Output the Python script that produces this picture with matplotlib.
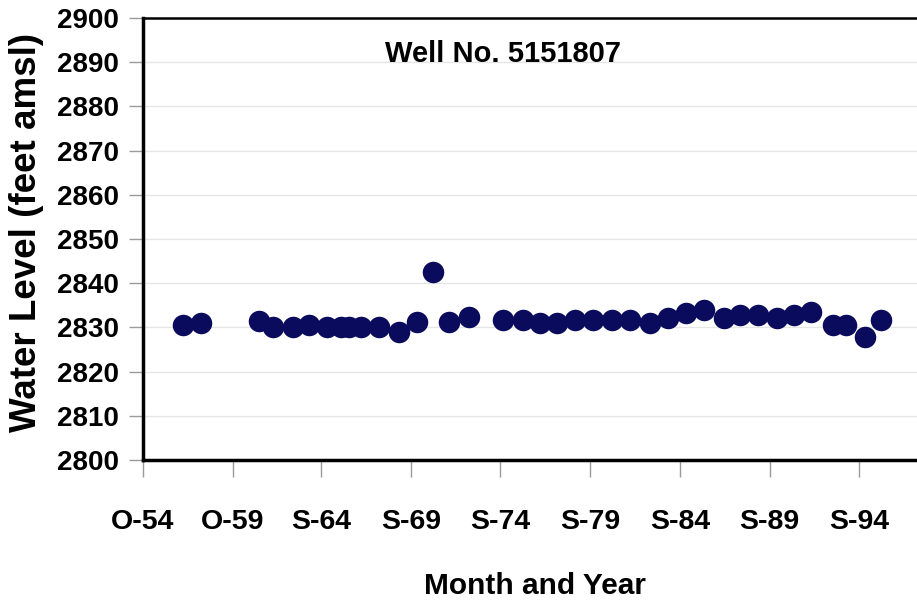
import numpy as np
import matplotlib.pyplot as plt

# water level readings (decimal year, feet amsl)
years = [1957.0, 1958.0, 1961.2, 1962.0, 1963.1, 1964.0, 1965.0, 1965.8, 1966.2,
         1966.9, 1967.9, 1969.0, 1970.0, 1970.9, 1971.8, 1972.9, 1974.8, 1975.9,
         1976.9, 1977.8, 1978.8, 1979.8, 1980.9, 1981.9, 1983.0, 1984.0, 1985.0,
         1986.0, 1987.1, 1988.0, 1989.0, 1990.1, 1991.0, 1992.0, 1993.2, 1993.9,
         1995.0, 1995.9]
levels = [2830.5, 2831.1, 2831.5, 2830.1, 2830.1, 2830.5, 2830.1, 2830.0, 2830.0,
          2830.0, 2830.0, 2829.0, 2831.2, 2842.5, 2831.2, 2832.4, 2831.7, 2831.7,
          2831.0, 2831.0, 2831.7, 2831.7, 2831.7, 2831.7, 2831.0, 2832.2, 2833.3,
          2834.0, 2832.2, 2832.8, 2832.8, 2832.2, 2832.8, 2833.5, 2830.5, 2830.5,
          2827.8, 2831.7]
tick_dates = [1954.75, 1959.75, 1964.67, 1969.67, 1974.67, 1979.67, 1984.67,
              1989.67, 1994.67]
tick_labels = ['O-54', 'O-59', 'S-64', 'S-69', 'S-74', 'S-79', 'S-84', 'S-89', 'S-94']

plt.rcParams['font.family'] = ['Liberation Sans', 'DejaVu Sans']
plt.rcParams['font.weight'] = 'bold'

fig = plt.figure(figsize=(9.17, 6.01), dpi=100)
ax = fig.add_axes([0.156, 0.2346, 0.905, 0.7354])

ax.set_xlim(1954.75, 2001.0)
ax.set_ylim(2800, 2900)

ax.plot(years, levels, 'o', color='#0b0b5e', markersize=15.5, markeredgewidth=0,
        zorder=3, clip_on=False)

ax.set_yticks(np.arange(2800, 2901, 10))
ax.yaxis.grid(True, color='#e6e6e6', linewidth=1)
ax.set_axisbelow(True)

ax.set_xticks(tick_dates)
ax.set_xticklabels(tick_labels)
ax.tick_params(axis='x', length=12, width=1, color='#9a9a9a', direction='out',
               pad=23, labelsize=20.5)
ax.tick_params(axis='y', length=10, width=1, color='#9a9a9a', labelsize=20, pad=7.5)

for s in ['left', 'bottom']:
    ax.spines[s].set_linewidth(2.5)
ax.spines['top'].set_linewidth(1.8)
ax.spines['right'].set_visible(False)

ax.set_ylabel('Water Level (feet amsl)', fontsize=26.5, fontweight='bold')
ax.yaxis.set_label_coords(-0.119, 0.515)
fig.text(0.5835, 0.011, 'Month and Year', fontsize=21.5, fontweight='bold',
         ha='center', va='baseline')
fig.text(0.5485, 0.897, 'Well No. 5151807', fontsize=21, fontweight='bold',
         ha='center', va='baseline')

fig.savefig('out.png', dpi=100)
